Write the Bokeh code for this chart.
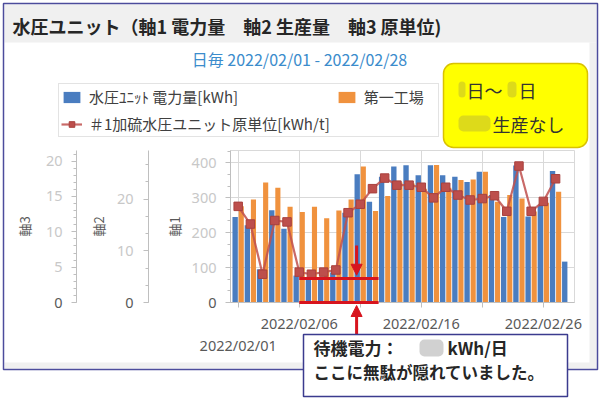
from bokeh.plotting import figure
from bokeh.models import (ColumnDataSource, Range1d, LinearAxis, SingleIntervalTicker,
                          FixedTicker, Legend, LegendItem, BoxAnnotation, Label, Arrow, NormalHead)
from bokeh.transform import dodge
from bokeh.embed import file_html
from bokeh.resources import INLINE

# ---------------- data ----------------
days = list(range(1, 29))
# axis 1: hydraulic unit power [kWh]
power_kwh = [245, 221, 95, 264, 211, 77, 68, 70, 86, 257, 367, 288, 360, 389,
             393, 364, 393, 364, 360, 345, 374, 308, 245, 392, 246, 278, 376, 117]
# axis 2: production (days 1-27)
production = [18.6, 19.9, 23.2, 22.2, 18.5, 17.5, 18.5, 16.3, 17.8, 19.9, 26.3, 17.7,
              20.6, 23.2, 23.0, 22.0, 26.6, 22.2, 23.7, 23.8, 25.3, 19.5, 20.8, 20.1,
              17.6, 19.3, 21.4]
# axis 3: unit consumption [kWh/t] (days 1-27)
unit_rate = [13.6, 11.1, 4.0, 11.6, 11.4, 4.3, 4.0, 4.3, 4.6, 12.7, 13.9, 16.1, 17.6,
             16.6, 16.6, 16.3, 14.8, 16.3, 15.2, 14.5, 14.7, 15.1, 12.9, 19.3, 12.9,
             14.3, 17.5]
x_tick_days = [1, 6, 11, 16, 21, 26]
x_tick_labels = ["2022/02/01", "2022/02/06", "2022/02/11", "2022/02/16", "2022/02/21", "2022/02/26"]
y1_grid = [100, 200, 300, 400]
standby_kwh = 69
standby_span = (6.0, 12.5)

TITLE = "水圧ユニット（軸1 電力量　軸2 生産量　軸3 原単位)"
SUBTITLE = "日毎 2022/02/01 - 2022/02/28"
# the second legend entry is cut by the yellow note in the reference: only its start shows
LEG = ["水圧ﾕﾆｯﾄ 電力量[kWh]", "第一工場", "＃1加硫水圧ユニット原単位[kWh/t]"]

BLUE = "#4a7dc0"
ORANGE = "#f0923e"
RED = "#c0504d"
AR = "#d7141e"
GRID = "#d9d9d9"
AX = "#bfbfbf"
TXT = "#595959"
JP = "Noto Sans CJK JP"
NUM = "Noto Sans"

# ---------------- layout (canvas pixels) ----------------
W, H = 605, 401
FL, FR, FT, FB = 230, 574, 150, 302          # chart area
X0, X1 = 0.37, 28.55                          # days shown in chart area
Y1MAX, Y2MAX, Y3MAX = 435, 29.4, 21.5         # axis tops


def xrange_full(a, b):
    per = (b - a) / (FR - FL)
    return Range1d(a - FL * per, b + (W - FR) * per)


def yrange_full(hi):
    per = hi / (FB - FT)
    return Range1d(-(H - FB) * per, hi + FT * per)


def day_at(px):
    return X0 + (px - FL) * (X1 - X0) / (FR - FL)


def kwh_at(py):
    return (FB - py) * Y1MAX / (FB - FT)


p = figure(width=W, height=H, output_backend="svg", toolbar_location=None, title=None,
           x_range=xrange_full(X0, X1), y_range=yrange_full(Y1MAX),
           min_border_left=0, min_border_right=0, min_border_top=0, min_border_bottom=0)
p.extra_y_ranges = {"ax2": yrange_full(Y2MAX), "ax3": yrange_full(Y3MAX), "py": Range1d(H, 0)}
p.extra_x_ranges = {"px": Range1d(0, W)}
p.background_fill_color = "white"
p.border_fill_color = "white"
p.outline_line_color = None


def box(l, r, t, b, fill=None, line=None, lw=1.0, radius=0, level="annotation", falpha=1.0):
    bx = BoxAnnotation(left=l, right=r, top=t, bottom=b, x_range_name="px", y_range_name="py",
                       fill_color=fill if fill else "white", fill_alpha=falpha if fill else 0,
                       line_color=line if line else "white", line_alpha=1 if line else 0,
                       line_width=lw, border_radius=radius, level=level)
    p.add_layout(bx)
    return bx


def lab(x, y, text, size, color, bold=False, align="left", font=JP, level="annotation"):
    lb = Label(x=x, y=y, x_range_name="px", y_range_name="py", text=text,
               text_font=font, text_font_size=size, text_color=color,
               text_font_style="bold" if bold else "normal",
               text_align=align, text_baseline="middle", level=level)
    p.add_layout(lb)
    return lb


# ---------------- panel decorations ----------------
box(4, 596, 4, 42, fill="#f0f0f0", level="underlay")
box(589, 596, 42, 368, fill="#f0f0f0", level="underlay")
box(4, 596, 362, 368, fill="#f0f0f0", level="underlay")
box(3, 597, 3, 369, line="#4c4c9c", lw=1.5, level="underlay")
box(FL, FR, FT, FB, line=GRID, lw=1, level="underlay")
lab(12, 25, TITLE, "18px", "#262626", bold=True)
lab(299, 58, SUBTITLE, "16px", "#3b8ccc", align="center")

# ---------------- series ----------------
src_p = ColumnDataSource(dict(day=days, kwh=power_kwh))
src_q = ColumnDataSource(dict(day=days[:27], t=production, rate=unit_rate))

rb = p.vbar(x=dodge("day", -0.25, range=p.x_range), top="kwh", width=0.44, source=src_p,
            fill_color=BLUE, line_color=None)
ro = p.vbar(x=dodge("day", 0.25, range=p.x_range), top="t", width=0.42, source=src_q,
            fill_color=ORANGE, line_color=None, y_range_name="ax2")
rl = p.line("day", "rate", source=src_q, y_range_name="ax3", line_color=RED,
            line_width=2.2, line_alpha=0.85)
rs = p.scatter("day", "rate", source=src_q, y_range_name="ax3", marker="square", size=8.5,
               fill_color="#bd4f4c", line_color="#a8413e")

# ---------------- grids ----------------
p.xgrid.ticker = FixedTicker(ticks=x_tick_days)
p.xgrid.cross_bounds = (0, Y1MAX)
p.xgrid.grid_line_color = GRID
p.ygrid.ticker = FixedTicker(ticks=y1_grid)
p.ygrid.cross_bounds = (X0, X1)
p.ygrid.grid_line_color = GRID

# ---------------- x axes (two staggered rows) ----------------
xa = p.xaxis[0]
xa.fixed_location = 0
xa.bounds = (X0, X1)
xa.ticker = FixedTicker(ticks=x_tick_days)
xa.major_label_overrides = {d: (x_tick_labels[i] if i % 2 == 1 else "") for i, d in enumerate(x_tick_days)}
xa.axis_line_color = AX
xa.major_tick_line_color = AX
xa.major_tick_out = 5
xa.major_tick_in = 0
xa.minor_tick_line_color = None
xa.major_label_standoff = 5
xa.major_label_text_font = NUM
xa.major_label_text_font_size = "14.5px"
xa.major_label_text_color = TXT

xb = LinearAxis(ticker=FixedTicker(ticks=x_tick_days[0::2]), fixed_location=kwh_at(331),
                bounds=(X0, X1),
                major_label_overrides={d: x_tick_labels[i] for i, d in enumerate(x_tick_days) if i % 2 == 0},
                axis_line_color=None, major_tick_line_color=None, minor_tick_line_color=None,
                major_tick_out=0, major_tick_in=0, minor_tick_out=0, minor_tick_in=0,
                major_label_standoff=3, major_label_text_font=NUM,
                major_label_text_font_size="14.5px", major_label_text_color=TXT)
p.add_layout(xb, "below")


# ---------------- y axes ----------------
def style_y(a, label, standoff, lab_standoff, loc_px, top):
    a.fixed_location = day_at(loc_px)
    a.bounds = (0, top)
    a.axis_label = label
    a.axis_label_text_font = JP
    a.axis_label_text_font_size = "13px"
    a.axis_label_text_font_style = "normal"
    a.axis_label_text_color = TXT
    a.axis_label_standoff = lab_standoff
    a.axis_line_color = AX
    a.major_tick_line_color = AX
    a.minor_tick_line_color = AX
    a.major_tick_out = 5
    a.major_tick_in = 0
    a.minor_tick_out = 3
    a.minor_tick_in = 0
    a.major_label_standoff = standoff
    a.major_label_text_font = NUM
    a.major_label_text_font_size = "14.5px"
    a.major_label_text_color = "#c8c8c8"
    a.major_label_overrides = {0: ""}


ya = p.yaxis[0]
ya.ticker = SingleIntervalTicker(interval=100, num_minor_ticks=3)
style_y(ya, "軸1", 9, 5, FL, Y1MAX)
yb = LinearAxis(y_range_name="ax2", ticker=SingleIntervalTicker(interval=10, num_minor_ticks=3))
style_y(yb, "軸2", 10, 6, 148, Y2MAX)
p.add_layout(yb, "left")
yc = LinearAxis(y_range_name="ax3", ticker=SingleIntervalTicker(interval=5, num_minor_ticks=5))
style_y(yc, "軸3", 9, 9, 76, Y3MAX)
p.add_layout(yc, "left")

for xz in (216, 133, 62):
    lab(xz, FB, "0", "14.5px", TXT, align="right", font=NUM)

# ---------------- legend (column-major fill: blue, red | orange) ----------------
legend = Legend(items=[LegendItem(label=LEG[0], renderers=[rb]),
                       LegendItem(label=LEG[2], renderers=[rl, rs]),
                       LegendItem(label=LEG[1], renderers=[ro])],
                location=(58, H - 137), ncols=2,
                label_text_font=JP, label_text_font_size="15px", label_text_color="#404040",
                glyph_width=21, glyph_height=14, label_standoff=7, label_height=18,
                label_width=72,
                padding=2, spacing=6, border_line_color="#c8c8c8", border_line_width=1,
                background_fill_color="white", background_fill_alpha=1)
p.add_layout(legend, "center")

# ---------------- yellow note ----------------
box(443, 587, 63, 147, fill="#ffff00", line="#d9c200", lw=1.5, radius=10, level="overlay")
box(458, 465, 81, 97, fill="#b3ad3a", radius=4, falpha=0.45, level="overlay")
box(507, 516, 81, 97, fill="#b3ad3a", radius=4, falpha=0.45, level="overlay")
box(458, 490, 115, 131, fill="#b3ad3a", radius=5, falpha=0.45, level="overlay")
lab(466, 89, "日～", "18px", "#333333", level="overlay")
lab(518, 89, "日", "18px", "#333333", level="overlay")
lab(492, 123, "生産なし", "18px", "#333333", level="overlay")

# ---------------- standby markers ----------------
for yv in (standby_kwh, 0):
    p.add_layout(Arrow(x_start=standby_span[0], x_end=standby_span[1], y_start=yv, y_end=yv,
                       end=None, line_color=AR, line_width=3))
p.add_layout(Arrow(x_start=10.7, x_end=10.7, y_start=163, y_end=78, line_color=AR, line_width=3,
                   end=NormalHead(size=11, fill_color=AR, line_color=AR)))
p.add_layout(Arrow(x_start=10.7, x_end=10.7, y_start=kwh_at(336), y_end=kwh_at(305),
                   line_color=AR, line_width=3,
                   end=NormalHead(size=11, fill_color=AR, line_color=AR)))

# ---------------- callout ----------------
box(303, 567, 334, 396, fill="white", line="#3b3b8e", lw=1.5, level="overlay")
lab(313, 347, "待機電力：", "17px", "#262626", bold=True, level="overlay")
box(419, 443, 339, 356, fill="#bdbdbd", radius=5, falpha=0.7, level="overlay")
lab(447, 347, "kWh/日", "17px", "#262626", bold=True, level="overlay")
lab(313, 371, "ここに無駄が隠れていました。", "16.5px", "#262626", bold=True, level="overlay")

with open("out.html", "w", encoding="utf-8") as f:
    f.write(file_html(p, INLINE))
